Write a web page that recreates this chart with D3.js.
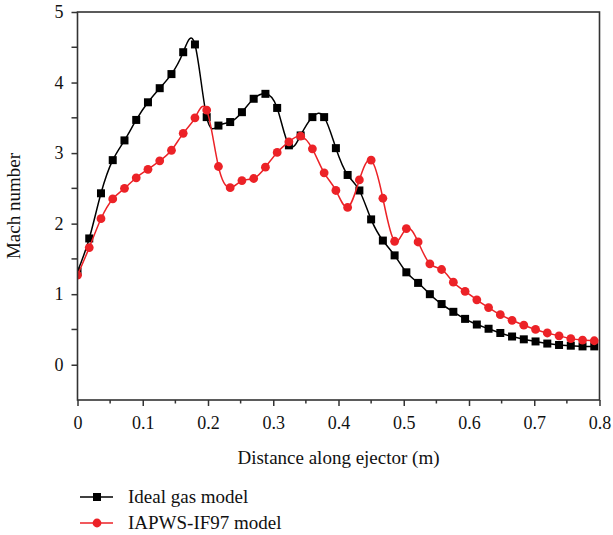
<!DOCTYPE html>
<html>
<head>
<meta charset="utf-8">
<script src="https://cdn.jsdelivr.net/npm/d3@7"></script>
<style>
  html, body { margin: 0; padding: 0; background: #fff; }
  svg { display: block; }
  text { font-family: "Liberation Serif", "DejaVu Serif", serif; fill: #111; }
</style>
</head>
<body>
<svg id="chart" width="613" height="535"></svg>
<script>
// Distance along the ejector (m) at each sampled station
const distance = [
  0.000, 0.018, 0.036, 0.054, 0.072, 0.090, 0.108, 0.126, 0.144, 0.162,
  0.180, 0.198, 0.216, 0.234, 0.252, 0.270, 0.288, 0.306, 0.324, 0.342,
  0.360, 0.378, 0.396, 0.414, 0.432, 0.450, 0.468, 0.486, 0.504, 0.522,
  0.540, 0.558, 0.576, 0.594, 0.612, 0.630, 0.648, 0.666, 0.684, 0.702,
  0.720, 0.738, 0.756, 0.774, 0.792
];

// Mach number, ideal gas model
const idealGas = [
  1.32, 1.79, 2.43, 2.90, 3.18, 3.47, 3.72, 3.92, 4.12, 4.43,
  4.54, 3.51, 3.39, 3.44, 3.58, 3.77, 3.84, 3.64, 3.11, 3.25,
  3.51, 3.51, 3.07, 2.69, 2.47, 2.06, 1.76, 1.55, 1.31, 1.16,
  1.00, 0.86, 0.75, 0.65, 0.57, 0.51, 0.45, 0.40, 0.36, 0.33,
  0.30, 0.28, 0.27, 0.26, 0.26
];

// Mach number, IAPWS-IF97 real-gas model
const iapws = [
  1.27, 1.66, 2.07, 2.35, 2.50, 2.65, 2.77, 2.89, 3.04, 3.28,
  3.50, 3.61, 2.81, 2.51, 2.61, 2.64, 2.80, 3.01, 3.16, 3.24,
  3.06, 2.72, 2.47, 2.23, 2.62, 2.90, 2.36, 1.75, 1.93, 1.74,
  1.43, 1.35, 1.17, 1.04, 0.92, 0.81, 0.71, 0.63, 0.56, 0.50,
  0.45, 0.41, 0.37, 0.35, 0.34
];

const xTicks = [0, 0.1, 0.2, 0.3, 0.4, 0.5, 0.6, 0.7, 0.8];
const yTicks = [0, 1, 2, 3, 4, 5];
const seriesNames = ["Ideal gas model", "IAPWS-IF97 model"];

const svg = d3.select("#chart");
const plotLeft = 77.5, plotRight = 599.5, plotTop = 12, plotBottom = 400;

const x = d3.scaleLinear().domain([0, 0.8]).range([plotLeft, plotRight]);
const y = d3.scaleLinear().domain([-0.5, 5]).range([plotBottom, plotTop]);

const axisColor = "#333";
const red = "#ec2227";

// clip region for curves and markers
svg.append("defs").append("clipPath").attr("id", "plotClip")
  .append("rect").attr("x", plotLeft).attr("y", plotTop)
  .attr("width", plotRight - plotLeft).attr("height", plotBottom - plotTop);

const plot = svg.append("g").attr("clip-path", "url(#plotClip)");

const series = [
  { name: seriesNames[0], values: idealGas, color: "#000", shape: "square" },
  { name: seriesNames[1], values: iapws, color: red, shape: "circle" }
];

// smooth spline through the stations
const line = d3.line()
  .x(d => x(d[0]))
  .y(d => y(d[1]))
  .curve(d3.curveNatural);

series.forEach(s => {
  const pts = distance.map((d, i) => [d, s.values[i]]);
  plot.append("path")
    .attr("d", line(pts))
    .attr("fill", "none")
    .attr("stroke", s.color)
    .attr("stroke-width", 1.5);
  const g = plot.append("g");
  if (s.shape === "square") {
    g.selectAll("rect").data(pts).join("rect")
      .attr("x", d => x(d[0]) - 4)
      .attr("y", d => y(d[1]) - 4)
      .attr("width", 8).attr("height", 8)
      .attr("fill", s.color);
  } else {
    g.selectAll("circle").data(pts).join("circle")
      .attr("cx", d => x(d[0]))
      .attr("cy", d => y(d[1]))
      .attr("r", 4.4)
      .attr("fill", s.color);
  }
});

// bottom axis with major and minor ticks
const xAxis = svg.append("g").attr("transform", `translate(0,${plotBottom})`)
  .call(d3.axisBottom(x).tickValues(xTicks).tickSize(6).tickPadding(10)
    .tickFormat(d => d === 0 ? "0" : d3.format(".1f")(d)));
xAxis.select(".domain").remove();
xAxis.selectAll("line").attr("stroke", axisColor).attr("stroke-width", 1.5);
xAxis.selectAll("text").attr("font-size", 18).style("font-family", "Liberation Serif");

const xMinor = d3.range(0.05, 0.8, 0.1);
svg.append("g").selectAll("line").data(xMinor).join("line")
  .attr("x1", d => x(d)).attr("x2", d => x(d))
  .attr("y1", plotBottom).attr("y2", plotBottom + 3.5)
  .attr("stroke", axisColor).attr("stroke-width", 1.5);

// left axis: labelled integer ticks plus half-step ticks
const yAxis = svg.append("g").attr("transform", `translate(${plotLeft},0)`)
  .call(d3.axisLeft(y).tickValues(yTicks).tickSize(6).tickPadding(8)
    .tickFormat(d3.format("d")));
yAxis.select(".domain").remove();
yAxis.selectAll("line").attr("stroke", axisColor).attr("stroke-width", 1.5);
yAxis.selectAll("text").attr("font-size", 18).style("font-family", "Liberation Serif");

const yMinor = d3.range(0.5, 5, 1);
svg.append("g").selectAll("line").data(yMinor).join("line")
  .attr("x1", plotLeft - 6).attr("x2", plotLeft)
  .attr("y1", d => y(d)).attr("y2", d => y(d))
  .attr("stroke", axisColor).attr("stroke-width", 1.5);

// frame around the plot area
svg.append("rect")
  .attr("x", plotLeft).attr("y", plotTop)
  .attr("width", plotRight - plotLeft).attr("height", plotBottom - plotTop)
  .attr("fill", "none").attr("stroke", axisColor).attr("stroke-width", 1.6);

// axis titles
svg.append("text")
  .attr("x", (plotLeft + plotRight) / 2).attr("y", 464)
  .attr("text-anchor", "middle").attr("font-size", 19)
  .text("Distance along ejector (m)");

svg.append("text")
  .attr("transform", `translate(20,${(plotTop + plotBottom) / 2}) rotate(-90)`)
  .attr("text-anchor", "middle").attr("font-size", 19)
  .text("Mach number");

// legend
const legend = svg.append("g");
series.forEach((s, i) => {
  const ly = 497 + i * 26;
  legend.append("line")
    .attr("x1", 80).attr("x2", 113).attr("y1", ly).attr("y2", ly)
    .attr("stroke", s.color).attr("stroke-width", 1.5);
  if (s.shape === "square") {
    legend.append("rect").attr("x", 93).attr("y", ly - 4)
      .attr("width", 8).attr("height", 8).attr("fill", s.color);
  } else {
    legend.append("circle").attr("cx", 97).attr("cy", ly).attr("r", 4.4)
      .attr("fill", s.color);
  }
  legend.append("text")
    .attr("x", 128).attr("y", ly + 6)
    .attr("font-size", 19)
    .text(s.name);
});
</script>
</body>
</html>
